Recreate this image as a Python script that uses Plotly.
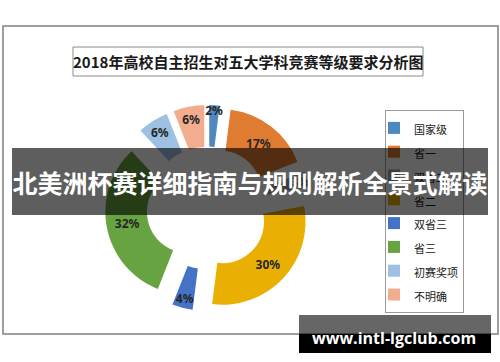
import plotly.graph_objects as go

# ---- data ----
categories = ["国家级", "省一", "双省二", "省二", "双省三", "省三", "初赛奖项", "不明确"]
shares = [2, 17, 3, 30, 4, 32, 6, 6]
colors = ["#4E88BF", "#E07B32", "#A5A5A5", "#E9B003", "#4472C4", "#67A340", "#9DC0E3", "#F2AD8E"]
title_text = "2018年高校自主招生对五大学科竞赛等级要求分析图"
banner_text = "北美洲杯赛详细指南与规则解析全景式解读"
watermark_text = "www.intl-lgclub.com"

W, H = 500, 362


def px(x):
    return x / W


def py(y):
    return 1 - y / H


legend_labels = [f'<span style="font-size:11px">{c}</span>' for c in categories]

fig = go.Figure()
fig.add_trace(go.Pie(
    labels=legend_labels,
    values=shares,
    sort=False,
    direction="clockwise",
    rotation=0,
    hole=0.5,
    pull=[0.24] * len(shares),
    marker=dict(colors=colors, line=dict(width=0)),
    texttemplate="%{value}%",
    textposition="inside",
    insidetextorientation="horizontal",
    textfont=dict(size=12, color="#262626", family="Noto Sans", weight="bold"),
    domain=dict(x=[px(105), px(311)], y=[py(311), py(105)]),
    hoverinfo="label+percent",
))

shapes = [
    # chart frame
    dict(type="rect", xref="paper", yref="paper", x0=px(3), x1=px(498), y0=py(334), y1=py(26),
         line=dict(color="#808080", width=1.5), fillcolor="rgba(0,0,0,0)", layer="below"),
    # title box
    dict(type="rect", xref="paper", yref="paper", x0=px(73), x1=px(423), y0=py(76), y1=py(47),
         line=dict(color="#8a8a8a", width=1), fillcolor="rgba(0,0,0,0)", layer="below"),
]

annotations = [
    dict(text=title_text, xref="paper", yref="paper", x=px(248), y=py(61.5),
         xanchor="center", yanchor="middle", showarrow=False,
         font=dict(size=15, color="#1a1a1a", family="Noto Sans CJK SC", weight="bold")),
    # banner overlay
    dict(text=banner_text, xref="paper", yref="paper", x=px(250), y=py(181.5),
         xanchor="center", yanchor="middle", showarrow=False, width=476, height=67,
         bgcolor="rgba(0,0,0,0.63)", borderpad=0, borderwidth=0,
         font=dict(size=25, color="white", family="Noto Sans CJK SC", weight="bold")),
    # watermark boxes
    dict(text=" ", xref="paper", yref="paper", x=px(395), y=py(324.5),
         xanchor="center", yanchor="middle", showarrow=False, width=192, height=19,
         bgcolor="rgba(0,0,0,0.6)", borderpad=0, borderwidth=0),
    dict(text=" ", xref="paper", yref="paper", x=px(395), y=py(343.5),
         xanchor="center", yanchor="middle", showarrow=False, width=192, height=19,
         bgcolor="#000000", borderpad=0, borderwidth=0),
    dict(text=watermark_text, xref="paper", yref="paper", x=px(394), y=py(338),
         xanchor="center", yanchor="middle", showarrow=False,
         font=dict(size=16, color="white", family="Open Sans", weight="bold")),
]

fig.update_layout(
    width=W, height=H,
    margin=dict(l=0, r=0, t=0, b=0),
    paper_bgcolor="white",
    plot_bgcolor="white",
    showlegend=True,
    legend=dict(x=px(385), y=py(110), xanchor="left", yanchor="top",
                bordercolor="#9a9a9a", borderwidth=1, bgcolor="white",
                font=dict(size=16, color="#1a1a1a", family="Noto Sans CJK SC"),
                indentation=-12,
                traceorder="normal"),
    uniformtext=dict(minsize=12, mode="show"),
    shapes=shapes,
    annotations=annotations,
)

fig.write_html("out.html", config={"displayModeBar": False},
               post_script="document.body.style.margin='0';document.body.style.padding='0';")
